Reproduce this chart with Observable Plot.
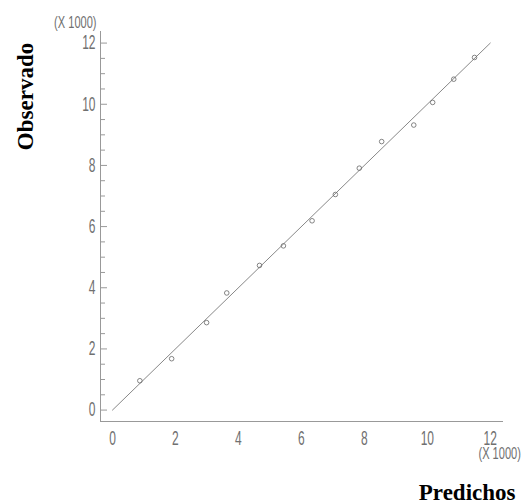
<!DOCTYPE html>
<html>
<head>
<meta charset="utf-8">
<script src="https://cdn.jsdelivr.net/npm/d3@7"></script>
<script src="https://cdn.jsdelivr.net/npm/@observablehq/plot@0.6"></script>
<style>
  html, body { margin: 0; padding: 0; background: #fff; }
</style>
</head>
<body>
<script>
// Data (in thousands)
const predichos = [0.87, 1.88, 2.99, 3.63, 4.67, 5.43, 6.34, 7.08, 7.84, 8.55, 9.57, 10.17, 10.84, 11.50];
const observado = [0.96, 1.68, 2.86, 3.83, 4.73, 5.37, 6.19, 7.05, 7.91, 8.78, 9.32, 10.06, 10.82, 11.53];
const fitX = [0, 12];
const fitY = [0, 12];
const majorTicks = [0, 2, 4, 6, 8, 10, 12];
const minorTicks = [0.5, 1, 1.5, 2.5, 3, 3.5, 4.5, 5, 5.5, 6.5, 7, 7.5, 8.5, 9, 9.5, 10.5, 11, 11.5];
const xTitle = "Predichos";
const yTitle = "Observado";
const multiplier = "(X 1000)";

const xDomain = [-0.38, 12.42];
const yDomain = [-0.373, 12.379];
const gray = "#707070";
const tickFont = "Liberation Sans, Arial, sans-serif";

const chart = Plot.plot({
  width: 524,
  height: 504,
  marginLeft: 100,
  marginRight: 21,
  marginTop: 31,
  marginBottom: 83,
  style: {background: "#fff", overflow: "visible"},
  x: {domain: xDomain},
  y: {domain: yDomain},
  marks: [
    // axis lines
    Plot.ruleX([xDomain[0]], {stroke: "#999", strokeWidth: 1}),
    Plot.ruleY([yDomain[0]], {stroke: "#999", strokeWidth: 1}),
    // inward ticks on y axis
    Plot.tickY(majorTicks, {y: d => d, insetRight: 396, stroke: "#999"}),
    Plot.tickY(minorTicks, {y: d => d, insetRight: 398, stroke: "#999"}),
    Plot.axisY({ticks: majorTicks, tickSize: 0, tickPadding: 5, label: null,
      tickFormat: d => String(d), fontSize: 20, fontFamily: tickFont, color: gray}),
    Plot.axisX({ticks: majorTicks, tickSize: 0, tickPadding: 9, label: null,
      tickFormat: d => String(d), fontSize: 20, fontFamily: tickFont, color: gray}),
    // fitted line
    Plot.line(fitX, {x: d => d, y: (d, i) => fitY[i], stroke: "#888", strokeWidth: 1}),
    // observations
    Plot.dot(predichos, {x: d => d, y: (d, i) => observado[i], r: 2.3, stroke: "#666", strokeWidth: 0.8, fill: "none"}),
    // multipliers
    Plot.text([multiplier], {text: d => d, frameAnchor: "top-left", dx: -4, dy: -9, textAnchor: "end",
      lineAnchor: "middle", fontSize: 17, fontFamily: tickFont, fill: gray}),
    Plot.text([multiplier], {text: d => d, frameAnchor: "bottom-right", dx: -25, dy: 32, textAnchor: "start",
      lineAnchor: "middle", fontSize: 17, fontFamily: tickFont, fill: gray}),
    // titles
    Plot.text([yTitle], {text: d => d, frameAnchor: "top-left", dx: -67.5, dy: 65, rotate: -90,
      textAnchor: "middle", lineAnchor: "bottom", fontSize: 23, fontWeight: "bold",
      fontFamily: "Liberation Serif, Times New Roman, serif", fill: "#000"}),
    Plot.text([xTitle], {text: d => d, frameAnchor: "bottom-right", dx: 12, dy: 78,
      textAnchor: "end", lineAnchor: "bottom", fontSize: 23, fontWeight: "bold",
      fontFamily: "Liberation Serif, Times New Roman, serif", fill: "#000"})
  ]
});

document.body.append(chart);

// condense the sans-serif labels like the original narrow font
chart.querySelectorAll("text").forEach(t => {
  const isTick = t.closest('g[aria-label$="tick label"]') !== null;
  const isMult = t.textContent === multiplier;
  if (!isTick && !isMult) return;
  const L = t.getComputedTextLength();
  t.setAttribute("textLength", (L * (isMult ? 0.65 : 0.6)).toFixed(2));
  t.setAttribute("lengthAdjust", "spacingAndGlyphs");
});
</script>
</body>
</html>
